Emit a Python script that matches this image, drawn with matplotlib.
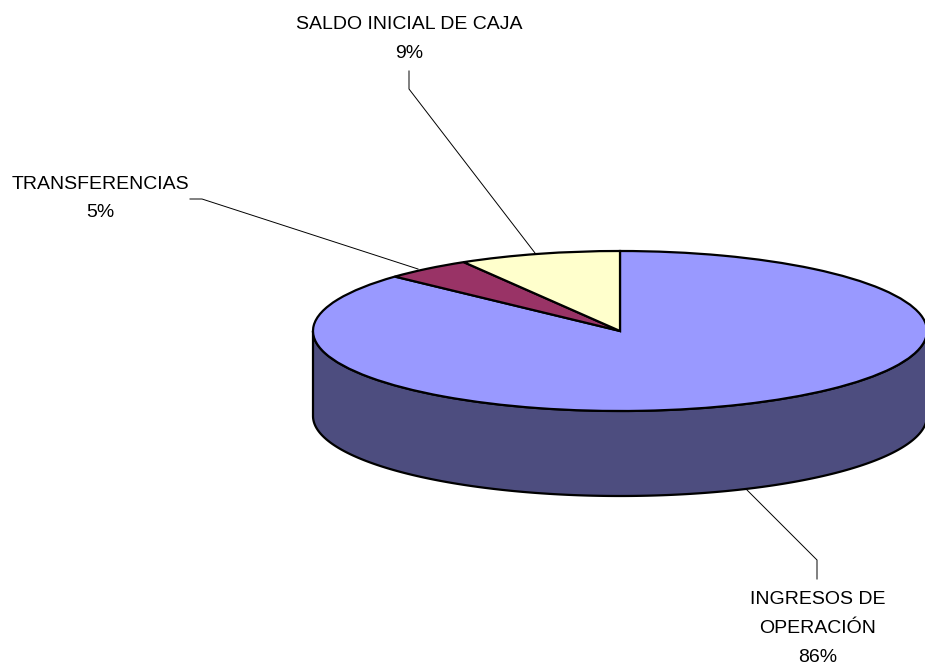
import numpy as np
import matplotlib
matplotlib.use("Agg")
import matplotlib.pyplot as plt

labels = ["INGRESOS DE\nOPERACIÓN\n86%", "TRANSFERENCIAS\n5%", "SALDO INICIAL DE CAJA\n9%"]
# porcentajes medidos en la torta dibujada (la perspectiva 3D los corre un poco
# respecto de las etiquetas 86 / 5 / 9)
values = [86.9, 4.6, 8.5]
colors = ["#9999FF", "#993366", "#FFFFCC"]
side_color = "#4D4D7F"

plt.rcParams["font.family"] = ["Liberation Sans", "DejaVu Sans"]

W, H = 925, 670
cx, cy = 620, 331
rx, ry = 307, 80
depth = 85

fig = plt.figure(figsize=(W / 100, H / 100), dpi=100)

# eje de la torta, en unidades del radio
ax = fig.add_axes([0, 0, 1, 1])
ax.pie(values, colors=colors, startangle=90, counterclock=False,
       wedgeprops={"edgecolor": "black", "linewidth": 1.6})
ax.set_aspect("auto")
ax.set_xlim(-cx / rx, (W - cx) / rx)
ax.set_ylim((cy - H) / ry, cy / ry)

# pared lateral del cilindro
t = np.linspace(np.pi, 2 * np.pi, 300)
xs = np.cos(t)
ys = np.sin(t)
d = depth / ry
ax.fill(np.r_[xs, xs[::-1]], np.r_[ys, ys[::-1] - d], facecolor=side_color,
        edgecolor="black", linewidth=1.6, zorder=0.5)
ax.axis("off")

# eje en pixeles para textos y lineas guia
ov = fig.add_axes([0, 0, 1, 1])
ov.set_xlim(0, W)
ov.set_ylim(H, 0)
ov.axis("off")
ov.patch.set_alpha(0)

ov.plot([409, 409, 535], [71, 89, 253], color="black", lw=0.7)
ov.plot([190, 202, 418], [199, 199, 269], color="black", lw=0.7)
ov.plot([817, 817, 746], [579, 560, 489], color="black", lw=0.7)

ov.text(409, 39, labels[2], ha="center", va="center", fontsize=14, linespacing=1.9, color="black")
ov.text(100, 198.5, labels[1], ha="center", va="center", fontsize=14, linespacing=1.9, color="black")
ov.text(818, 628.5, labels[0], ha="center", va="center", fontsize=14, linespacing=1.9, color="black")

fig.savefig("out.png", dpi=100)
